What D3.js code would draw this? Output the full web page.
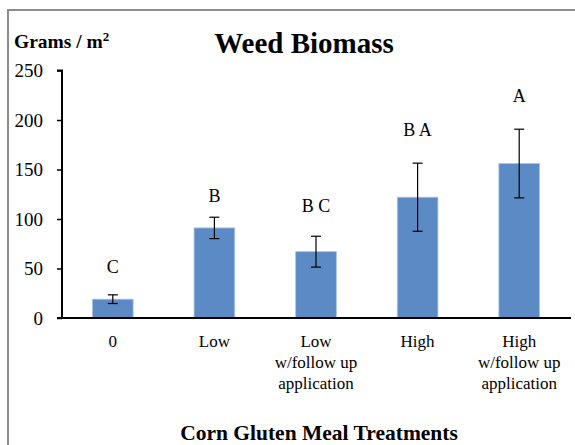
<!DOCTYPE html>
<html>
<head>
<meta charset="utf-8">
<script src="https://cdn.jsdelivr.net/npm/d3@7"></script>
<style>
  body { margin: 0; background: #fff; }
  svg, svg text, svg tspan { font-family: "Liberation Serif", "Times New Roman", serif; }
</style>
</head>
<body>
<div class="chart"></div>
<script>
// treatments and what was measured
var categories = ['0', 'Low', 'Low w/follow up application', 'High', 'High w/follow up application'];
var catLines = [['0'], ['Low'], ['Low', 'w/follow up', 'application'], ['High'], ['High', 'w/follow up', 'application']];
var biomass = [19, 91, 67, 122, 156];
var stdErr = [4.4, 10.8, 15.6, 34.4, 34.7];
var letters = ['C', 'B', 'B C', 'B A', 'A'];
var letterAt = [52, 124, 113, 190, 225];
var yTicks = [0, 50, 100, 150, 200, 250];

var serif = '"Liberation Serif", "Times New Roman", serif';
var w = 575, h = 445;
var svg = d3.select('.chart')
	.append('svg')
	.attr('width', w)
	.attr('height', h)
	.attr('font-family', serif);

// chart area frame
svg.append('path')
	.attr('d', 'M8,' + h + 'V10H' + w)
	.attr('fill', 'none')
	.attr('stroke', '#8c8c8c')
	.attr('stroke-width', 2);

var x = d3.scaleBand()
	.domain(categories)
	.range([62, 570])
	.paddingInner(0.6)
	.paddingOuter(0.3);

var y = d3.scaleLinear()
	.domain([0, 250])
	.range([318, 70.5]);

// bars
svg.selectAll('rect.bar')
	.data(biomass)
	.enter()
	.append('rect')
	.attr('class', 'bar')
	.attr('x', function(d, i){ return x(categories[i]); })
	.attr('y', function(d){ return y(d); })
	.attr('width', x.bandwidth())
	.attr('height', function(d){ return y(0) - y(d); })
	.attr('fill', '#5b8ac5')
	.attr('stroke', '#a9c2e3')
	.attr('stroke-width', 0.8);

// error bars
var errs = svg.selectAll('g.err')
	.data(biomass)
	.enter()
	.append('g')
	.attr('class', 'err')
	.attr('stroke', '#000')
	.attr('stroke-width', 1.2);
errs.append('line')
	.attr('x1', function(d, i){ return x(categories[i]) + x.bandwidth() / 2; })
	.attr('x2', function(d, i){ return x(categories[i]) + x.bandwidth() / 2; })
	.attr('y1', function(d, i){ return y(d + stdErr[i]); })
	.attr('y2', function(d, i){ return y(d - stdErr[i]); });
[1, -1].forEach(function(s){
	errs.append('line')
		.attr('x1', function(d, i){ return x(categories[i]) + x.bandwidth() / 2 - 5; })
		.attr('x2', function(d, i){ return x(categories[i]) + x.bandwidth() / 2 + 5; })
		.attr('y1', function(d, i){ return y(d + s * stdErr[i]); })
		.attr('y2', function(d, i){ return y(d + s * stdErr[i]); });
});

// significance letters
svg.selectAll('text.letter')
	.data(letters)
	.enter()
	.append('text')
	.attr('class', 'letter')
	.attr('x', function(d, i){ return x(categories[i]) + x.bandwidth() / 2; })
	.attr('y', function(d, i){ return y(letterAt[i]); })
	.attr('dy', '0.35em')
	.attr('text-anchor', 'middle')
	.style('font-size', '18px')
	.text(function(d){ return d; });

// y axis
var yAxis = svg.append('g')
	.attr('transform', 'translate(62,0)')
	.call(d3.axisLeft(y).tickValues(yTicks).tickSize(5).tickPadding(14));
yAxis.attr('font-family', serif).attr('font-size', 19);
yAxis.select('.domain').attr('stroke', '#000').attr('stroke-width', 2).attr('d', 'M-5,' + y(250) + 'H0V' + y(0));
yAxis.selectAll('.tick line').attr('stroke', '#000').attr('stroke-width', 1.5);
yAxis.selectAll('.tick text').attr('fill', '#000');

// x axis baseline
svg.append('line')
	.attr('x1', 57).attr('x2', 571)
	.attr('y1', y(0)).attr('y2', y(0))
	.attr('stroke', '#000')
	.attr('stroke-width', 2);

// category labels
var cats = svg.selectAll('text.cat')
	.data(catLines)
	.enter()
	.append('text')
	.attr('class', 'cat')
	.attr('text-anchor', 'middle')
	.style('font-size', '17px');
cats.selectAll('tspan')
	.data(function(d, i){ return d.map(function(t){ return {t: t, i: i}; }); })
	.enter()
	.append('tspan')
	.attr('x', function(d){ return x(categories[d.i]) + x.bandwidth() / 2; })
	.attr('y', function(d, j){ return 347 + j * 21; })
	.text(function(d){ return d.t; });

// titles
svg.append('text')
	.attr('x', 304).attr('y', 53)
	.attr('text-anchor', 'middle')
	.style('font-size', '29px')
	.style('font-weight', 'bold')
	.text('Weed Biomass');

var yl = svg.append('text')
	.attr('x', 14).attr('y', 48)
	.style('font-size', '19.5px')
	.style('font-weight', 'bold');
yl.append('tspan').text('Grams / m');
yl.append('tspan').attr('dy', -7).style('font-size', '13px').text('2');

svg.append('text')
	.attr('x', 319).attr('y', 440)
	.attr('text-anchor', 'middle')
	.style('font-size', '21.5px')
	.style('font-weight', 'bold')
	.text('Corn Gluten Meal Treatments');
</script>
</body>
</html>
